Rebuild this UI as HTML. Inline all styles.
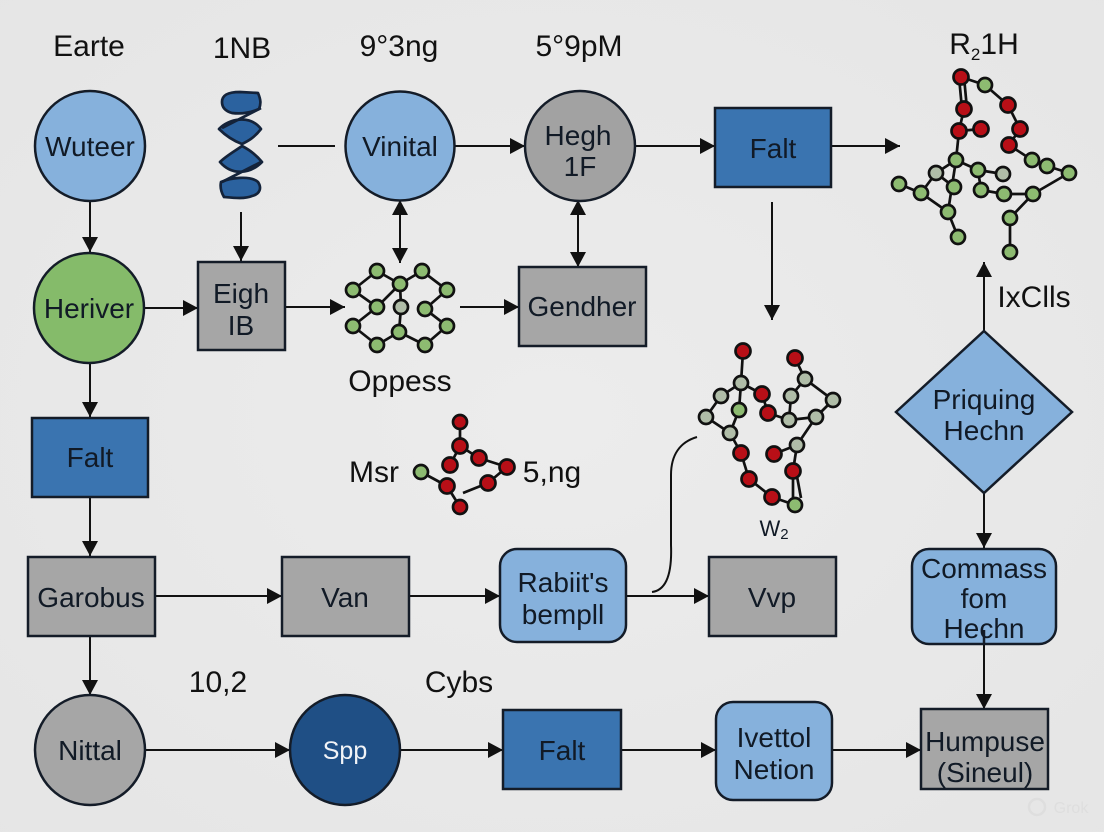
<!DOCTYPE html>
<html><head><meta charset="utf-8">
<style>
html,body{margin:0;padding:0;background:#e8e8e8}
svg{display:block}
text{font-family:"Liberation Sans",sans-serif;font-size:28px;fill:#111a26;text-anchor:middle}
text.t{font-size:30px;fill:#111}
.s{stroke:#141c28;stroke-width:2.5}
.l line,.l path{stroke:#111;stroke-width:2;fill:none}
.a line{stroke:#111;stroke-width:2;marker-end:url(#m)}
.d line{stroke:#111;stroke-width:2;marker-end:url(#m);marker-start:url(#m)}
.e line{stroke:#111;stroke-width:2.7}
.n circle{stroke:#111;stroke-width:2.7}
.r circle{fill:#b80f17}
.g circle{fill:#8dbb71}
.y circle{fill:#b0bda8}
</style></head>
<body>
<svg width="1104" height="832" viewBox="0 0 1104 832" xmlns="http://www.w3.org/2000/svg">
<defs>
<marker id="m" markerUnits="userSpaceOnUse" markerWidth="15" markerHeight="16" refX="15" refY="8" orient="auto-start-reverse"><path d="M0,0L15,8L0,16Z" fill="#111"/></marker>
<radialGradient id="bg" cx="50%" cy="50%" r="75%"><stop offset="0" stop-color="#ececec"/><stop offset="1" stop-color="#e5e5e5"/></radialGradient>
</defs>
<rect width="1104" height="832" fill="url(#bg)"/>

<!-- connectors -->
<g class="a">
<line x1="90" y1="201" x2="90" y2="252"/>
<line x1="90" y1="363" x2="90" y2="417"/>
<line x1="90" y1="497" x2="90" y2="556"/>
<line x1="90" y1="637" x2="90" y2="695"/>
<line x1="145" y1="308" x2="198" y2="308"/>
<line x1="241" y1="212" x2="241" y2="261"/>
<line x1="285" y1="307" x2="345" y2="307"/>
<line x1="455" y1="146" x2="525" y2="146"/>
<line x1="635" y1="146" x2="715" y2="146"/>
<line x1="831" y1="146" x2="900" y2="146"/>
<line x1="772" y1="202" x2="772" y2="320"/>
<line x1="460" y1="307" x2="519" y2="307"/>
<line x1="984" y1="331" x2="984" y2="262"/>
<line x1="984" y1="493" x2="984" y2="548"/>
<line x1="984" y1="630" x2="984" y2="709"/>
<line x1="155" y1="596" x2="282" y2="596"/>
<line x1="409" y1="596" x2="500" y2="596"/>
<line x1="626" y1="596" x2="709" y2="596"/>
<line x1="145" y1="750" x2="290" y2="750"/>
<line x1="400" y1="750" x2="503" y2="750"/>
<line x1="621" y1="750" x2="716" y2="750"/>
<line x1="832" y1="750" x2="921" y2="750"/>
</g>
<g class="d">
<line x1="400" y1="200" x2="400" y2="263"/>
<line x1="578" y1="200" x2="578" y2="267"/>
</g>
<g class="l">
<line x1="278" y1="146" x2="335" y2="146"/>
</g>

<!-- helix -->
<g fill="#2b629f" stroke="#14233a" stroke-width="2.7" stroke-linejoin="round">
<path d="M222,102C222,95 228,92 240,92L258,93C261,100 261,104 259,109C250,113 240,114 232,113C225,111 222,107 222,102Z"/>
<path d="M219,129C228,119 250,114 261,129C254,138 248,141 242,144C234,141 226,136 219,129Z"/>
<path d="M220,162C226,156 235,151 242,146C250,150 257,156 262,162C250,174 232,176 220,162Z"/>
<path d="M221,182C230,178 250,175 258,182C262,188 260,194 252,196C245,199 235,198 224,197C221,192 220,187 221,182Z"/>
<path d="M261,108L222,128M222,182L261,162" fill="none"/>
</g>

<!-- circle nodes -->
<circle class="s" cx="90" cy="146" r="55" fill="#86b1dc"/>
<circle class="s" cx="89" cy="308" r="55" fill="#85bb6a"/>
<circle class="s" cx="400" cy="146" r="54.5" fill="#86b1dc"/>
<circle class="s" cx="580" cy="146" r="55" fill="#a2a2a2"/>
<circle class="s" cx="90" cy="750" r="55" fill="#a6a6a6"/>
<circle class="s" cx="345" cy="750" r="55" fill="#1f4f85"/>

<!-- rectangles -->
<rect class="s" x="715" y="108" width="116" height="79" fill="#3a74b0"/>
<rect class="s" x="198" y="262" width="87" height="88" fill="#a6a6a6"/>
<rect class="s" x="519" y="267" width="127" height="79" fill="#a6a6a6"/>
<rect class="s" x="32" y="418" width="116" height="79" fill="#3a74b0"/>
<rect class="s" x="28" y="557" width="127" height="79" fill="#a6a6a6"/>
<rect class="s" x="282" y="557" width="127" height="79" fill="#a6a6a6"/>
<rect class="s" x="709" y="557" width="127" height="79" fill="#a6a6a6"/>
<rect class="s" x="503" y="710" width="118" height="79" fill="#3a74b0"/>
<rect class="s" x="921" y="709" width="127" height="80" fill="#a6a6a6"/>
<rect class="s" x="500" y="549" width="126" height="93" rx="17" fill="#86b1dc"/>
<rect class="s" x="716" y="702" width="116" height="98" rx="17" fill="#86b1dc"/>
<rect class="s" x="912" y="549" width="144" height="95" rx="17" fill="#86b1dc"/>
<polygon class="s" points="984,331 1072,412 984,493 896,412" fill="#86b1dc"/>
<line class="s" x1="984" y1="630" x2="984" y2="644" stroke-width="2"/>

<!-- curve -->
<g class="l"><path d="M652,592C668,590 672,570 671,545L671,475C671,455 680,442 697,437"/></g>

<!-- molecule top right -->
<g class="e">
<line x1="961" y1="77" x2="985" y2="85"/><line x1="959" y1="77" x2="962" y2="109"/><line x1="964" y1="77" x2="967" y2="109"/>
<line x1="964" y1="109" x2="959" y2="131"/><line x1="959" y1="131" x2="981" y2="129"/><line x1="985" y1="85" x2="1008" y2="105"/>
<line x1="1008" y1="105" x2="1020" y2="129"/><line x1="1020" y1="129" x2="1009" y2="145"/><line x1="1009" y1="145" x2="1032" y2="160"/>
<line x1="1032" y1="160" x2="1047" y2="166"/><line x1="1047" y1="166" x2="1069" y2="173"/><line x1="1069" y1="173" x2="1033" y2="194"/>
<line x1="1033" y1="194" x2="1004" y2="194"/><line x1="1004" y1="194" x2="981" y2="190"/><line x1="981" y1="190" x2="978" y2="170"/>
<line x1="978" y1="170" x2="956" y2="160"/><line x1="978" y1="170" x2="1003" y2="174"/><line x1="959" y1="131" x2="956" y2="160"/>
<line x1="956" y1="160" x2="936" y2="173"/><line x1="956" y1="160" x2="948" y2="212"/><line x1="936" y1="173" x2="954" y2="187"/>
<line x1="936" y1="173" x2="921" y2="193"/><line x1="899" y1="184" x2="921" y2="193"/><line x1="921" y1="193" x2="948" y2="212"/>
<line x1="948" y1="212" x2="958" y2="237"/><line x1="1033" y1="194" x2="1010" y2="218"/><line x1="1010" y1="218" x2="1010" y2="252"/>
</g>
<g class="n r"><circle cx="961" cy="77" r="7.5"/><circle cx="964" cy="109" r="7.5"/><circle cx="959" cy="131" r="7.5"/><circle cx="981" cy="129" r="7.5"/><circle cx="1008" cy="105" r="7.5"/><circle cx="1020" cy="129" r="7.5"/><circle cx="1009" cy="145" r="7.5"/></g>
<g class="n g"><circle cx="985" cy="85" r="7"/><circle cx="956" cy="160" r="7"/><circle cx="978" cy="170" r="7"/><circle cx="954" cy="187" r="7"/><circle cx="981" cy="190" r="7"/><circle cx="1004" cy="194" r="7"/><circle cx="1033" cy="194" r="7"/><circle cx="1032" cy="160" r="7"/><circle cx="1047" cy="166" r="7"/><circle cx="1069" cy="173" r="7"/><circle cx="899" cy="184" r="7"/><circle cx="921" cy="193" r="7"/><circle cx="948" cy="212" r="7"/><circle cx="958" cy="237" r="7"/><circle cx="1010" cy="218" r="7"/><circle cx="1010" cy="252" r="7"/></g>
<g class="n y"><circle cx="936" cy="173" r="7"/><circle cx="1003" cy="174" r="7"/></g>

<!-- molecule center -->
<g class="e">
<line x1="353" y1="290" x2="377" y2="271"/><line x1="377" y1="271" x2="400" y2="284"/><line x1="400" y1="284" x2="422" y2="271"/>
<line x1="422" y1="271" x2="447" y2="290"/><line x1="447" y1="290" x2="425" y2="309"/><line x1="425" y1="309" x2="447" y2="326"/>
<line x1="447" y1="326" x2="425" y2="345"/><line x1="425" y1="345" x2="399" y2="332"/><line x1="399" y1="332" x2="377" y2="345"/>
<line x1="377" y1="345" x2="353" y2="326"/><line x1="353" y1="326" x2="377" y2="307"/><line x1="377" y1="307" x2="400" y2="284"/>
<line x1="353" y1="290" x2="377" y2="307"/><line x1="400" y1="284" x2="401" y2="307"/><line x1="401" y1="307" x2="399" y2="332"/>
</g>
<g class="n g"><circle cx="377" cy="271" r="7"/><circle cx="422" cy="271" r="7"/><circle cx="353" cy="290" r="7"/><circle cx="400" cy="284" r="7"/><circle cx="447" cy="290" r="7"/><circle cx="377" cy="307" r="7"/><circle cx="425" cy="309" r="7"/><circle cx="353" cy="326" r="7"/><circle cx="399" cy="332" r="7"/><circle cx="447" cy="326" r="7"/><circle cx="377" cy="345" r="7"/><circle cx="425" cy="345" r="7"/></g>
<g class="n y"><circle cx="401" cy="307" r="7"/></g>

<!-- molecule right middle -->
<g class="e">
<line x1="743" y1="351" x2="741" y2="383"/><line x1="741" y1="383" x2="721" y2="396"/><line x1="721" y1="396" x2="706" y2="417"/>
<line x1="706" y1="417" x2="730" y2="433"/><line x1="741" y1="383" x2="739" y2="410"/><line x1="739" y1="410" x2="730" y2="433"/>
<line x1="741" y1="383" x2="762" y2="394"/><line x1="762" y1="394" x2="768" y2="413"/><line x1="768" y1="413" x2="789" y2="420"/>
<line x1="789" y1="420" x2="791" y2="396"/><line x1="791" y1="396" x2="805" y2="379"/><line x1="805" y1="379" x2="795" y2="358"/>
<line x1="805" y1="379" x2="833" y2="400"/><line x1="833" y1="400" x2="816" y2="417"/><line x1="816" y1="417" x2="789" y2="420"/>
<line x1="816" y1="417" x2="797" y2="445"/><line x1="797" y1="445" x2="774" y2="454"/><line x1="797" y1="445" x2="793" y2="471"/>
<line x1="793" y1="471" x2="793" y2="505"/><line x1="796" y1="471" x2="801" y2="498"/><line x1="730" y1="433" x2="741" y2="453"/>
<line x1="741" y1="453" x2="749" y2="479"/><line x1="749" y1="479" x2="772" y2="497"/><line x1="772" y1="497" x2="795" y2="505"/>
</g>
<g class="n r"><circle cx="743" cy="351" r="7.5"/><circle cx="795" cy="358" r="7.5"/><circle cx="762" cy="394" r="7.5"/><circle cx="768" cy="413" r="7.5"/><circle cx="741" cy="453" r="7.5"/><circle cx="774" cy="454" r="7.5"/><circle cx="793" cy="471" r="7.5"/><circle cx="749" cy="479" r="7.5"/><circle cx="772" cy="497" r="7.5"/></g>
<g class="n y"><circle cx="741" cy="383" r="7"/><circle cx="805" cy="379" r="7"/><circle cx="721" cy="396" r="7"/><circle cx="791" cy="396" r="7"/><circle cx="833" cy="400" r="7"/><circle cx="706" cy="417" r="7"/><circle cx="789" cy="420" r="7"/><circle cx="816" cy="417" r="7"/><circle cx="730" cy="433" r="7"/><circle cx="797" cy="445" r="7"/></g>
<g class="n g"><circle cx="739" cy="410" r="7"/><circle cx="795" cy="505" r="7"/></g>

<!-- molecule small -->
<g class="e">
<line x1="460" y1="422" x2="460" y2="446"/><line x1="460" y1="446" x2="450" y2="465"/><line x1="460" y1="446" x2="479" y2="458"/>
<line x1="479" y1="458" x2="507" y2="467"/><line x1="507" y1="467" x2="488" y2="483"/><line x1="488" y1="483" x2="463" y2="493"/>
<line x1="421" y1="472" x2="447" y2="486"/><line x1="447" y1="486" x2="460" y2="507"/>
</g>
<g class="n r"><circle cx="460" cy="422" r="7"/><circle cx="460" cy="446" r="7.5"/><circle cx="479" cy="458" r="7.5"/><circle cx="450" cy="465" r="7.5"/><circle cx="507" cy="467" r="7.5"/><circle cx="447" cy="486" r="7.5"/><circle cx="488" cy="483" r="7.5"/><circle cx="460" cy="507" r="7"/></g>
<g class="n g"><circle cx="421" cy="472" r="7"/></g>

<!-- labels -->
<text class="t" x="89" y="56">Earte</text>
<text class="t" x="242" y="58">1NB</text>
<text class="t" x="399" y="56">9°3ng</text>
<text class="t" x="579" y="56">5°9pM</text>
<text class="t" x="984" y="54">R<tspan style="font-size:17px" dy="6">2</tspan><tspan dy="-6">1H</tspan></text>
<text x="90" y="156">Wuteer</text>
<text x="89" y="318">Heriver</text>
<text x="400" y="156">Vinital</text>
<text x="578" y="145">Hegh</text>
<text x="580" y="176">1F</text>
<text x="773" y="158">Falt</text>
<text x="241" y="303">Eigh</text>
<text x="241" y="335">IB</text>
<text x="582" y="316">Gendher</text>
<text class="t" x="400" y="391">Oppess</text>
<text class="t" x="1034" y="307">IxClls</text>
<text class="t" x="374" y="482">Msr</text>
<text class="t" x="552" y="482">5,ng</text>
<text x="90" y="467">Falt</text>
<text x="984" y="409">Priquing</text>
<text x="984" y="440">Hechn</text>
<text x="774" y="536" style="font-size:22px">W<tspan style="font-size:15px" dy="3">2</tspan></text>
<text x="91" y="607">Garobus</text>
<text x="345" y="607">Van</text>
<text x="563" y="592">Rabiit's</text>
<text x="563" y="624">bempll</text>
<text x="772" y="607">Vvp</text>
<text x="984" y="578">Commass</text>
<text x="984" y="608">fom</text>
<text x="984" y="638">Hechn</text>
<text class="t" x="218" y="692">10,2</text>
<text class="t" x="459" y="692">Cybs</text>
<text x="90" y="760">Nittal</text>
<text x="345" y="759" style="fill:#f2f4f7;font-size:25px">Spp</text>
<text x="562" y="760">Falt</text>
<text x="774" y="747">Ivettol</text>
<text x="774" y="779">Netion</text>
<text x="985" y="751">Humpuse</text>
<text x="985" y="782">(Sineul)</text>
<circle cx="1037" cy="807" r="8" fill="none" stroke="#dedede" stroke-width="2.5"/>
<text x="1071" y="813" style="fill:#dedede;font-size:16px">Grok</text>
</svg>
</body></html>
